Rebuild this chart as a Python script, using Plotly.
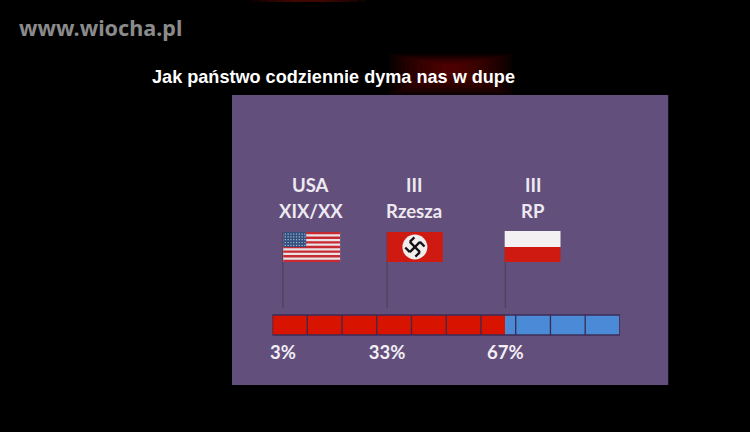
import plotly.graph_objects as go

W, H = 750, 432
# data
bar_series = ["red", "blue"]
bar_values = [67, 33]
bar_colors = ["#d81400", "#4a8ad6"]
cell_edges = [10, 20, 30, 40, 50, 60, 70, 80, 90]
pct_values = [3, 33, 67]
pct_labels = ["<b>3%</b>", "<b>33%</b>", "<b>67%</b>"]
country_line1 = ["USA", "III", "III"]
country_line2 = ["XIX/XX", "Rzesza", "RP"]
title_text = "Jak państwo codziennie dyma nas w dupe"
watermark = "www.wiocha.pl"

px = lambda x: x / W
py = lambda y: 1 - y / H
shapes, annos = [], []


def rect(x0, y0, x1, y1, color, layer="below", opacity=1):
    shapes.append(dict(type="rect", xref="paper", yref="paper", x0=px(x0), x1=px(x1),
                       y0=py(y1), y1=py(y0), fillcolor=color, line_width=0,
                       layer=layer, opacity=opacity))


# red glow behind the title
for i in range(14):
    rect(388 + i * 4, 54 + i * 0.8, 512 - i * 4, 96 - i * 1.6, "#8c1606", opacity=0.06)
for i in range(6):
    rect(250 + i * 8, 0, 365 - i * 8, 2, "#8c1606", opacity=0.10)

# panel
rect(230.6, 95, 668, 385, "#634f7c")

# poles, drawn from pct values
for v in pct_values:
    shapes.append(dict(type="line", xref="x", yref="paper", x0=v, x1=v, y0=py(308), y1=py(232),
                       line=dict(color="#4c4256", width=1.2), layer="below"))

# USA flag
fx = 282
rect(fx, 232, fx + 57, 262, "#e9e2e6")
for i in range(7):
    y = 232 + i * 30 / 6.5
    rect(fx, y, fx + 57, y + 30 / 13, "#c62a30")
rect(fx, 232, fx + 23, 247, "#33507f")
for r in range(5):
    for c in range(8):
        rect(fx + 1.5 + c * 2.8, 233.5 + r * 2.8, fx + 2.7 + c * 2.8, 234.7 + r * 2.8, "#aab8cf")

# III Rzesza flag
rect(386, 232, 442, 262, "#cf1a12")
shapes.append(dict(type="circle", xref="paper", yref="paper", x0=px(401.5), x1=px(426.5),
                   y0=py(259.5), y1=py(234.5), fillcolor="#f2eeee", line_width=0, layer="below"))
cx, cy, a, t = 414, 247, 6.2, 2.3
arms = [((-a, -a), (a, a)), ((-a, a), (a, -a)),
        ((a, a), (a - a * .9, a + a * .9)), ((-a, -a), (-a + a * .9, -a - a * .9)),
        ((-a, a), (-a - a * .9, a - a * .9)), ((a, -a), (a + a * .9, -a + a * .9))]
for (ax, ay), (bx, by) in arms:
    shapes.append(dict(type="line", xref="paper", yref="paper",
                       x0=px(cx + ax * .82), y0=py(cy + ay * .82),
                       x1=px(cx + bx * .82), y1=py(cy + by * .82),
                       line=dict(color="#141014", width=t), layer="below"))

# III RP flag
rect(504, 231, 560, 247, "#f4f1f2")
rect(504, 247, 560, 262, "#cf1a12")

# cell dividers and outline
for e in cell_edges:
    shapes.append(dict(type="line", xref="x", yref="paper", x0=e, x1=e, y0=py(335), y1=py(315),
                       line=dict(color="#3a2a50", width=1.3), layer="above"))
shapes.append(dict(type="rect", xref="x", yref="paper", x0=0, x1=100, y0=py(335), y1=py(315),
                   line=dict(color="#3c2c55", width=1.4), fillcolor="rgba(0,0,0,0)", layer="above"))


def text(x, y, s, size, color, family, anchor="center"):
    annos.append(dict(xref="paper", yref="paper", x=px(x), y=py(y), text=s, showarrow=False,
                      xanchor=anchor, yanchor="middle",
                      font=dict(size=size, color=color, family=family)))


for x, a1, a2 in zip([309.5, 413.5, 532.5], country_line1, country_line2):
    text(x, 185, "<b>" + a1 + "</b>", 18.5, "#eee9f0", "Lato, sans-serif")
    text(x, 211, "<b>" + a2 + "</b>", 18.5, "#eee9f0", "Lato, sans-serif")

text(148.5, 77, "<b>" + title_text + "</b>", 18.1, "#ffffff", "Liberation Sans", "left")
text(15, 27, "<b>" + watermark + "</b>", 21.6, "#8b8b8b", "Noto Sans", "left")

fig = go.Figure()
for name, v, c in zip(bar_series, bar_values, bar_colors):
    fig.add_bar(y=["bar"], x=[v], name=name, orientation="h", marker=dict(color=c, line_width=0),
                showlegend=False)

fig.update_layout(
    width=W, height=H, barmode="stack", bargap=0, margin=dict(l=0, r=0, t=0, b=0),
    paper_bgcolor="#000000", plot_bgcolor="rgba(0,0,0,0)", shapes=shapes, annotations=annos,
    xaxis=dict(domain=[px(271.2), px(619.6)], range=[0, 100], showgrid=False, zeroline=False,
               tickmode="array", tickvals=pct_values, ticktext=pct_labels, ticks="", showline=False,
               anchor="y", ticklabelstandoff=4,
               tickfont=dict(size=18.5, color="#f2eef4", family="Lato, sans-serif")),
    yaxis=dict(domain=[py(335), py(315)], showticklabels=False, showgrid=False, zeroline=False,
               ticks="", showline=False),
)
fig.write_html("out.html", post_script="document.body.style.margin='0';",
               config={"displayModeBar": False})
